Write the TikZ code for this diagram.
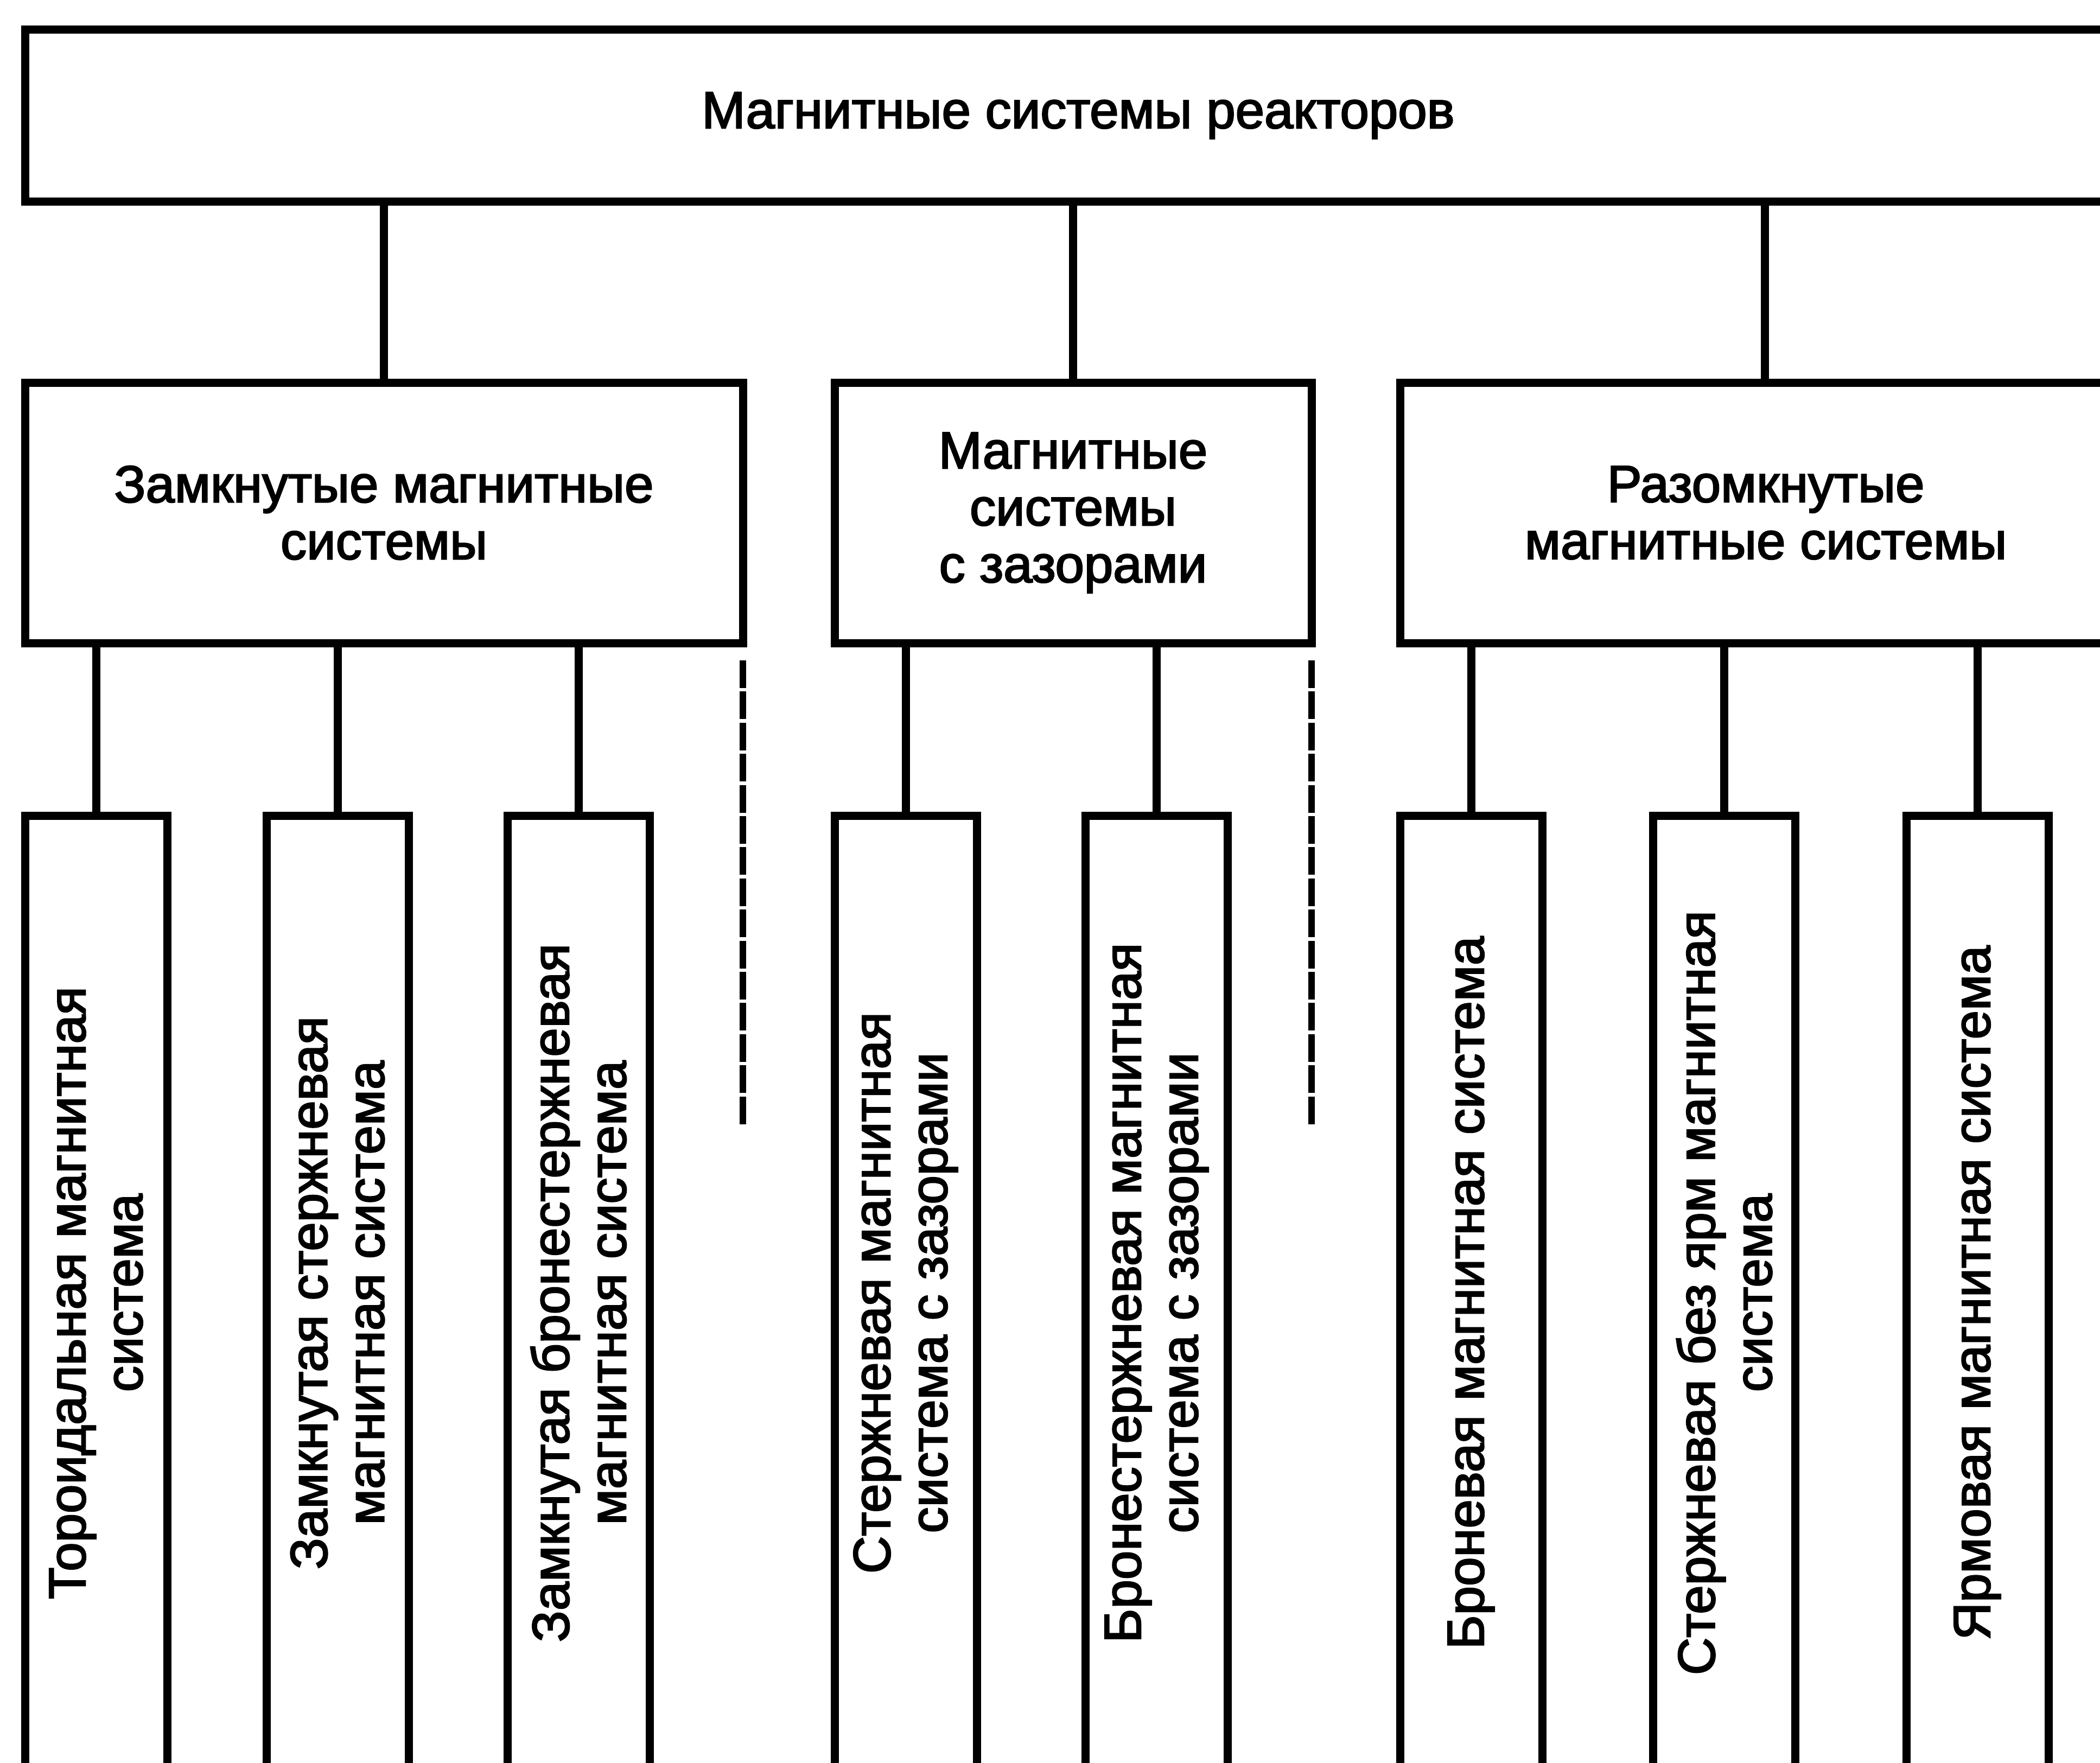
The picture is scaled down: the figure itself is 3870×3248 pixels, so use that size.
\documentclass[tikz,border=0pt]{standalone}
\usepackage{fontspec}
\setmainfont{Liberation Sans}
\newfontfamily\diagfont[FakeBold=2.5]{Liberation Sans}
\begin{document}
\begin{tikzpicture}[x=1pt,y=-1pt,
  box/.style={draw, line width=15pt, inner sep=0pt, align=center,
    font=\diagfont\fontsize{96}{105}\selectfont},
  midbox/.style={box, minimum height=480pt},
  leaf/.style={box, rotate=90, minimum width=1759pt, minimum height=262pt},
  conn/.style={line width=15pt},
  gapline/.style={line width=12pt, dash pattern=on 51pt off 6.4pt}]
\path[use as bounding box, clip] (0,0) rectangle (3870,3248);
\fill[white] (0,0) rectangle (3870,3248);

% top level
\node[box, minimum width=3882pt, minimum height=317pt] (top) at (1987,213) {Магнитные системы реакторов};

% middle level
\node[midbox, minimum width=1323pt] (A) at (707.5,945) {Замкнутые магнитные\\системы};
\node[midbox, minimum width=879pt] (B) at (1977.5,945) {Магнитные\\системы\\с зазорами};
\node[midbox, minimum width=1348pt] (C) at (3254,945) {Разомкнутые\\магнитные системы};

% leaves
\node[leaf] (L1) at (177,2382.5) {Тороидальная магнитная\\система};
\node[leaf] (L2) at (622,2382.5) {Замкнутая стержневая\\магнитная система};
\node[leaf] (L3) at (1066,2382.5) {Замкнутая бронестержневая\\магнитная система};
\node[leaf] (L4) at (1669,2382.5) {Стержневая магнитная\\система с зазорами};
\node[leaf] (L5) at (2131.5,2382.5) {Бронестержневая магнитная\\система с зазорами};
\node[leaf] (L6) at (2711,2382.5) {Броневая магнитная система};
\node[leaf] (L7) at (3177.5,2382.5) {Стержневая без ярм магнитная\\система};
\node[leaf] (L8) at (3644,2382.5) {Ярмовая магнитная система};

% connectors top -> middle
\draw[conn] (A.north |- top.south) -- (A.north);
\draw[conn] (B.north |- top.south) -- (B.north);
\draw[conn] ([xshift=-2pt]C.north |- top.south) -- ([xshift=-2pt]C.north);

% connectors middle -> leaves
\foreach \l in {L1,L2,L3} \draw[conn] (\l.east |- A.south) -- (\l.east);
\foreach \l in {L4,L5} \draw[conn] (\l.east |- B.south) -- (\l.east);
\foreach \l in {L6,L7,L8} \draw[conn] (\l.east |- C.south) -- (\l.east);

% dashed continuation lines
\coordinate (dA1) at (1369,1217);
\coordinate (dA2) at (1369,2073);
\coordinate (dB1) at (2417,1217);
\coordinate (dB2) at (2417,2073);
\draw[gapline] (dA1) -- (dA2);
\draw[gapline] (dB1) -- (dB2);
\end{tikzpicture}
\end{document}
